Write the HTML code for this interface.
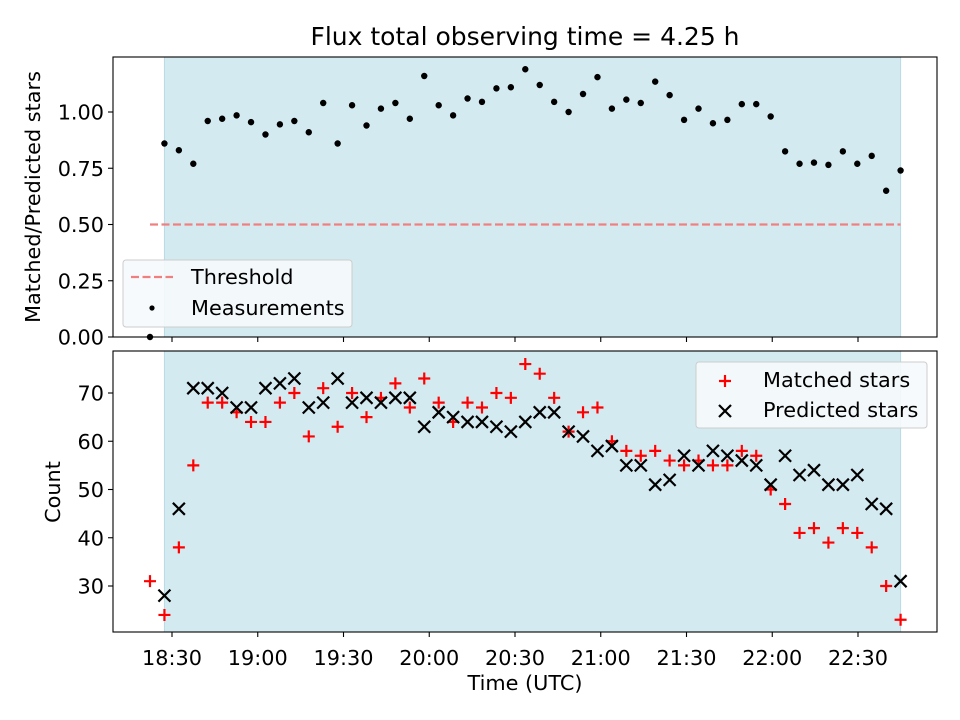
<!DOCTYPE html>
<html><head><meta charset="utf-8"><style>
html,body{margin:0;padding:0;background:#fff;}
svg{display:block;font-family:"DejaVu Sans","Liberation Sans",sans-serif;}
</style></head><body>
<svg id="chart" width="960" height="720" viewBox="0 0 960 720"></svg>
<script>
const times = [22.3,27.35,32.4,37.45,42.5,47.55,52.6,57.65,62.7,67.75,72.8,77.85,82.9,87.95,93.0,98.05,103.1,108.15,113.2,118.25,123.3,128.35,133.4,138.45,143.5,148.55,153.6,158.65,163.7,168.75,173.8,178.85,183.9,188.95,194.0,199.05,204.1,209.15,214.2,219.25,224.3,229.35,234.4,239.45,244.5,249.55,254.6,259.65,264.7,269.75,274.8,279.85,284.9];
const ratio = [0.00,0.86,0.83,0.77,0.96,0.97,0.985,0.955,0.90,0.945,0.96,0.91,1.04,0.86,1.03,0.94,1.015,1.04,0.97,1.16,1.03,0.985,1.06,1.045,1.105,1.11,1.19,1.12,1.045,1.0,1.08,1.155,1.015,1.055,1.04,1.135,1.075,0.965,1.015,0.95,0.965,1.035,1.035,0.98,0.825,0.77,0.775,0.765,0.825,0.77,0.805,0.65,0.74];
const matched = [31,24,38,55,68,68,66,64,64,68,70,61,71,63,70,65,69,72,67,73,68,64,68,67,70,69,76,74,69,62,66,67,60,58,57,58,56,55,56,55,55,58,57,50,47,41,42,39,42,41,38,30,23];
const predicted = [null,28,46,71,71,70,67,67,71,72,73,67,68,73,68,69,68,69,69,63,66,65,64,64,63,62,64,66,66,62,61,58,59,55,55,51,52,57,55,58,57,56,55,51,57,53,54,51,51,53,47,46,31];
const xTickLabels = ["18:30","19:00","19:30","20:00","20:30","21:00","21:30","22:00","22:30"];
const xTickMinutes = [30,60,90,120,150,180,210,240,270];
const topYTicks = [0,0.25,0.5,0.75,1.0];
const botYTicks = [30,40,50,60,70];
const threshold = 0.5;

const NS="http://www.w3.org/2000/svg";
const svg=document.getElementById('chart');
function mk(tag,attrs,parent){const e=document.createElementNS(NS,tag);for(const k in attrs)e.setAttribute(k,attrs[k]);(parent||svg).appendChild(e);return e;}
const L=113,R=937;
const FS='20.8';
const xS=m=>172+(m-30)*85.75/30;
const T={top:57,bot:337}; const yT=v=>337-v*225;
const B={top:351,bot:632}; const yB=v=>393-(v-70)*4.825;

let t=mk('text',{x:525,y:45,'text-anchor':'middle','font-size':'25'});t.textContent="Flux total observing time = 4.25 h";



function panel(P,name){
  const g=mk('g',{});
  
  
  const sh=mk('rect',{x:xS(times[1]),y:P.top,width:xS(times[times.length-1])-xS(times[1]),height:P.bot-P.top,fill:'#d4eaf1',stroke:'#b8dbe5','stroke-width':1},g);
  
  
  return g;
}
function frame(P,g){
  mk('rect',{x:L,y:P.top,width:R-L,height:P.bot-P.top,fill:'none',stroke:'#000','stroke-width':1.1},g);
  xTickMinutes.forEach(m=>{mk('line',{x1:xS(m),x2:xS(m),y1:P.bot,y2:P.bot+5,stroke:'#000','stroke-width':1.1},g);});
}
const gT=panel(T,'ratio-panel');
const th=mk('line',{x1:xS(times[0]),x2:xS(times[times.length-1]),y1:yT(threshold),y2:yT(threshold),stroke:'#f08080','stroke-width':2.2,'stroke-dasharray':'8,3.5'},gT);


ratio.forEach((v,i)=>{
  const c=mk('circle',{cx:xS(times[i]),cy:yT(v),r:3.2,fill:'#000'},gT);
  
  
});
frame(T,gT);
topYTicks.forEach(v=>{
  mk('line',{x1:L-5,x2:L,y1:yT(v),y2:yT(v),stroke:'#000','stroke-width':1.1},gT);
  const tx=mk('text',{x:L-9,y:yT(v)+7.5,'text-anchor':'end','font-size':FS},gT);tx.textContent=v.toFixed(2);
  
  
});
let yl=mk('text',{x:40,y:197,'text-anchor':'middle','font-size':FS,transform:'rotate(-90 40 197)'});yl.textContent="Matched/Predicted stars";


const lg1=mk('g',{});


mk('rect',{x:123,y:260,width:229,height:67,rx:3,fill:'#f6fafc','fill-opacity':0.9,stroke:'#ccc'},lg1);
mk('line',{x1:131,x2:173,y1:277,y2:277,stroke:'#f08080','stroke-width':2.2,'stroke-dasharray':'8,3.5'},lg1);
let l1=mk('text',{x:191,y:284,'font-size':FS},lg1);l1.textContent="Threshold";
mk('circle',{cx:152,cy:308,r:2.6,fill:'#000'},lg1);
let l2=mk('text',{x:191,y:315,'font-size':FS},lg1);l2.textContent="Measurements";

const gB=panel(B,'count-panel');
function plus(x,y,g){return mk('path',{d:`M${x-6},${y}H${x+6}M${x},${y-6}V${y+6}`,stroke:'#f00','stroke-width':2.2},g);}
function cross(x,y,g){return mk('path',{d:`M${x-6},${y-6}L${x+6},${y+6}M${x-6},${y+6}L${x+6},${y-6}`,stroke:'#000','stroke-width':2.2},g);}
matched.forEach((v,i)=>{
  const p=plus(xS(times[i]),yB(v),gB);
  
  
});
predicted.forEach((v,i)=>{
  if(v===null)return;
  const p=cross(xS(times[i]),yB(v),gB);
  
  
});
frame(B,gB);
botYTicks.forEach(v=>{
  mk('line',{x1:L-5,x2:L,y1:yB(v),y2:yB(v),stroke:'#000','stroke-width':1.1},gB);
  const tx=mk('text',{x:L-9,y:yB(v)+7.5,'text-anchor':'end','font-size':FS},gB);tx.textContent=v;
  
  
});
xTickLabels.forEach((s,i)=>{
  const tx=mk('text',{x:xS(xTickMinutes[i]),y:665,'text-anchor':'middle','font-size':FS});tx.textContent=s;
  
  
});
let yl2=mk('text',{x:60,y:492,'text-anchor':'middle','font-size':FS,transform:'rotate(-90 60 492)'});yl2.textContent="Count";


let xl=mk('text',{x:525,y:690,'text-anchor':'middle','font-size':FS});xl.textContent="Time (UTC)";


const lg2=mk('g',{});


mk('rect',{x:696,y:362,width:231,height:66,rx:3,fill:'#f6fafc','fill-opacity':0.9,stroke:'#ccc'},lg2);
plus(725,381,lg2);
let l3=mk('text',{x:763,y:387,'font-size':FS},lg2);l3.textContent="Matched stars";
cross(725,411,lg2);
let l4=mk('text',{x:763,y:417,'font-size':FS},lg2);l4.textContent="Predicted stars";
</script>
</body></html>
